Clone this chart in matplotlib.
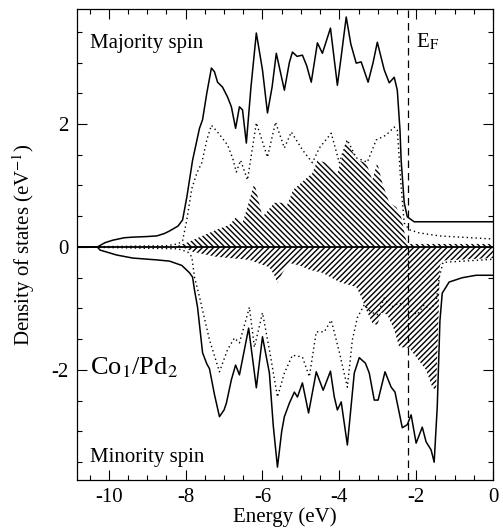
import numpy as np
import matplotlib
matplotlib.use('Agg')
import matplotlib.pyplot as plt
from matplotlib.ticker import MultipleLocator

plt.rcParams['font.family'] = 'Liberation Serif'
plt.rcParams['mathtext.fontset'] = 'stix'
plt.rcParams['axes.unicode_minus'] = False
plt.rcParams['hatch.linewidth'] = 1.0

# majority spin, total (solid)
maj_tot_e = [-10.83, -10.3, -10.1, -9.9, -9.6, -9.38, -9.0, -8.75, -8.55, -8.42, -8.2, -8.08,
             -7.97, -7.82, -7.64, -7.56, -7.45, -7.33, -7.25, -7.17, -7.04, -6.91, -6.81, -6.7,
             -6.6, -6.52, -6.42, -6.3, -6.16, -6.0, -5.87, -5.75, -5.64, -5.43, -5.3, -5.22,
             -5.1, -4.96, -4.85, -4.73, -4.57, -4.44, -4.23, -4.05, -3.95, -3.82, -3.7, -3.56,
             -3.43, -3.25, -3.12, -3.01, -2.83, -2.7, -2.57, -2.49, -2.42, -2.39, -2.31, -2.23,
             -2.05, 0.0]
maj_tot = [0, 0, 0.07, 0.11, 0.15, 0.16, 0.17, 0.18, 0.22, 0.26, 0.34, 0.44,
           0.81, 1.41, 1.93, 2.07, 2.5, 2.91, 2.85, 2.68, 2.6, 2.44, 2.28, 1.93,
           2.28, 2.23, 1.69, 2.6, 3.48, 2.88, 2.18, 2.6, 3.15, 2.55, 3.0, 3.17,
           3.1, 3.12, 2.95, 2.68, 3.32, 3.15, 3.56, 2.63, 3.1, 3.74, 3.3, 2.99,
           3.01, 2.68, 3.0, 3.33, 2.88, 2.67, 2.76, 2.55, 1.9, 1.41, 0.72, 0.49,
           0.41, 0.41]

# majority spin, dotted
maj_dot_e = [-10.83, -8.5, -8.2, -8.08, -7.97, -7.84, -7.71, -7.58, -7.45, -7.33, -7.17, -6.91,
             -6.78, -6.68, -6.57, -6.39, -6.16, -5.87, -5.66, -5.43, -5.25, -4.96, -4.7, -4.52,
             -4.21, -4.0, -3.79, -3.56, -3.27, -3.04, -2.78, -2.57, -2.49, -2.39, -2.31, -2.18,
             -1.92, -1.4, 0.0]
maj_dot = [0, 0.02, 0.05, 0.1, 0.44, 0.95, 1.2, 1.37, 1.74, 1.98, 1.87, 1.66,
           1.45, 1.22, 1.41, 1.09, 2.02, 1.46, 2.03, 1.61, 1.87, 1.58, 1.37, 1.61,
           1.85, 1.37, 1.74, 1.45, 1.38, 1.74, 1.82, 1.95, 1.9, 0.98, 0.39, 0.28,
           0.23, 0.18, 0.13]

# majority spin, hatched
maj_hat_e = [-8.3, -7.97, -7.64, -7.2, -6.86, -6.68, -6.52, -6.34, -6.21, -6.0, -5.69, -5.48,
             -5.38, -5.2, -4.91, -4.7, -4.57, -4.34, -4.21, -4.05, -3.87, -3.82, -3.69, -3.53,
             -3.3, -3.14, -3.01, -2.88, -2.7, -2.52, -2.39, -2.26, -2.18, 0.0]
maj_hat = [0, 0.07, 0.16, 0.28, 0.36, 0.49, 0.39, 0.76, 1.04, 0.49, 0.72, 0.72,
           0.65, 0.93, 1.09, 1.2, 1.41, 1.37, 1.28, 1.2, 1.58, 1.74, 1.58, 1.41,
           1.37, 1.09, 1.37, 1.04, 0.72, 0.65, 0.49, 0.11, 0.05, 0.05]

# minority spin, total (solid)
min_tot_e = [-10.83, -10.3, -10.23, -9.8, -9.38, -8.75, -8.42, -8.1, -7.9, -7.82, -7.77, -7.69,
             -7.56, -7.45, -7.38, -7.25, -7.12, -7.0, -6.94, -6.81, -6.7, -6.6, -6.36, -6.16,
             -6.0, -5.82, -5.72, -5.61, -5.5, -5.43, -5.3, -5.17, -5.09, -4.96, -4.8, -4.6,
             -4.42, -4.23, -4.13, -4.05, -3.95, -3.79, -3.61, -3.48, -3.32, -3.22, -3.09, -2.99,
             -2.81, -2.65, -2.55, -2.36, -2.23, -2.13, -2.0, -1.84, -1.74, -1.61, -1.53, -1.45,
             -1.38, -1.32, -1.14, -0.8, -0.44, 0.0]
min_tot = [0, 0, -0.05, -0.13, -0.18, -0.21, -0.23, -0.3, -0.42, -0.49, -0.7, -0.98,
           -1.72, -1.9, -1.98, -2.4, -2.76, -2.65, -2.54, -2.16, -1.92, -2.08, -1.32, -2.29,
           -1.46, -2.05, -2.9, -3.58, -3.0, -2.76, -2.54, -2.36, -2.44, -2.21, -2.7, -2.03,
           -2.33, -2.02, -2.44, -2.65, -2.52, -3.22, -2.05, -1.8, -1.89, -2.05, -2.49, -2.49,
           -2.03, -2.28, -2.36, -2.94, -2.89, -2.73, -3.19, -2.93, -3.17, -3.3, -3.5, -2.6,
           -1.2, -0.75, -0.57, -0.5, -0.46, -0.46]

# minority spin, dotted
min_dot_e = [-10.83, -8.2, -7.95, -7.84, -7.77, -7.64, -7.5, -7.38, -7.12, -6.91, -6.73, -6.6,
             -6.34, -6.21, -6.0, -5.82, -5.61, -5.43, -5.22, -4.96, -4.78, -4.6, -4.39, -4.21,
             -4.0, -3.79, -3.66, -3.53, -3.35, -3.17, -3.01, -2.83, -2.65, -2.44, -2.18, -1.97,
             -1.79, -1.66, -1.48, -1.4, -1.3, 0.0]
min_dot = [0, -0.03, -0.08, -0.16, -0.49, -0.81, -1.19, -1.51, -2.03, -1.67, -1.48, -1.56,
           -0.98, -1.63, -1.07, -1.67, -2.44, -2.05, -1.76, -1.79, -2.11, -1.38, -1.38, -1.19,
           -1.71, -2.28, -1.51, -1.15, -0.94, -1.06, -1.1, -0.83, -0.98, -0.91, -1.02, -1.1,
           -0.94, -1.02, -0.91, -0.5, -0.25, -0.2]

# minority spin, hatched
min_hat_e = [-8.1, -7.8, -7.2, -6.34, -5.82, -5.7, -5.61, -5.48, -5.3, -5.04, -4.78, -4.44,
             -4.0, -3.56, -3.43, -3.3, -3.14, -3.01, -2.91, -2.75, -2.57, -2.44, -2.18, -2.0,
             -1.74, -1.58, -1.48, -1.42, -1.38, -1.3, 0.0]
min_hat = [0, -0.08, -0.16, -0.21, -0.33, -0.45, -0.59, -0.42, -0.26, -0.3, -0.37, -0.42,
           -0.57, -0.65, -0.81, -1.02, -1.24, -1.27, -1.07, -1.1, -1.35, -1.63, -1.64, -1.79,
           -2.0, -2.28, -2.33, -1.2, -0.3, -0.22, -0.18]

e_fermi = -2.2

fig = plt.figure(figsize=(5.03, 5.31), dpi=100)
ax = fig.add_axes([0.153, 0.096, 0.827, 0.887])

ax.fill_between(maj_hat_e, 0, maj_hat, facecolor='none', edgecolor='black',
                hatch='\\' * 6, linewidth=0)
ax.fill_between(min_hat_e, 0, min_hat, facecolor='none', edgecolor='black',
                hatch='/' * 6, linewidth=0)

ax.plot(maj_tot_e, maj_tot, color='black', lw=1.1, solid_joinstyle='round')
ax.plot(min_tot_e, min_tot, color='black', lw=1.1, solid_joinstyle='round')
ax.plot(maj_dot_e, maj_dot, color='black', lw=1.0, ls=(0, (1, 2.2)))
ax.plot(min_dot_e, min_dot, color='black', lw=1.0, ls=(0, (1, 2.2)))

ax.axhline(0, color='black', lw=1.3)
ax.axvline(e_fermi, color='black', lw=0.9, ls=(0, (6, 4)))

ax.set_xlim(-10.83, 0)
ax.set_ylim(-3.79, 3.87)
ax.xaxis.set_major_locator(MultipleLocator(2))
ax.xaxis.set_minor_locator(MultipleLocator(0.5))
ax.yaxis.set_major_locator(MultipleLocator(2))
ax.yaxis.set_minor_locator(MultipleLocator(0.5))
ax.tick_params(which='both', direction='in', top=True, right=True, labelsize=15, width=0.8)
ax.tick_params(which='major', length=7, pad=6)
ax.tick_params(which='minor', length=3.5)
for s in ax.spines.values():
    s.set_linewidth(0.9)

ax.set_xlabel('Energy (eV)', fontsize=15, labelpad=0)
ax.set_ylabel('Density of states (eV$^{-1}$)', fontsize=15, labelpad=10)

ax.text(-10.49, 3.24, 'Majority spin', fontsize=15, va='baseline')
ax.text(-10.49, -3.5, 'Minority spin', fontsize=15, va='baseline')
ax.text(-2.0, 3.24, 'E$_{\\rm F}$', fontsize=15, va='baseline')
ax.text(-10.49, -2.08, 'Co$_1$/Pd$_2$', fontsize=19, va='baseline')

fig.savefig('out.png', dpi=100)
